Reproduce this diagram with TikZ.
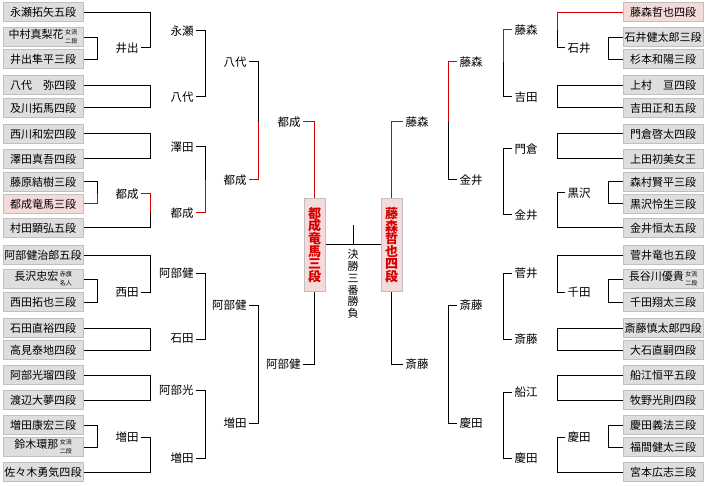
\documentclass[tikz,border=0pt]{standalone}
\usepackage{fontspec}
\setmainfont{Noto Sans CJK JP}
\definecolor{boxfill}{RGB}{222,222,222}
\definecolor{boxline}{RGB}{192,192,192}
\definecolor{champfill}{RGB}{245,218,218}
\definecolor{winred}{RGB}{215,0,0}
\newcommand\stk[2]{\hspace{1.5pt}{\fontsize{6}{8.6}\selectfont\begin{tabular}{@{}c@{}}#1\\#2\end{tabular}}}

\begin{document}
\begin{tikzpicture}[x=1pt, y=-1pt, line width=1pt,
        player/.style={draw=boxline, minimum width=80pt, minimum height=19pt, inner sep=0pt, font=\fontsize{11}{12}\selectfont},
        winL/.style={anchor=east, inner sep=2pt, font=\fontsize{11.5}{12}\selectfont},
        winR/.style={anchor=west, inner sep=2pt, font=\fontsize{11.5}{12}\selectfont},
        finalist/.style={draw=boxline, fill=champfill, minimum width=21pt, minimum height=92pt, inner sep=0pt, align=center, text=winred, font=\fontsize{13}{12.6}\selectfont\bfseries},
        winline/.style={draw=winred}]
            \useasboundingbox (0,0) rectangle (706,486);
            % Bracket columns
            \foreach \c/\x in {vL1/97, vL2/150, vL3/205, vL4/258, vR1/608, vR2/557, vR3/503, vR4/448} {
                    \coordinate (\c) at (\x,0);
                }
            % Left players
            \foreach \i/\y/\n/\f in {0/12.5/永瀬拓矢五段/boxfill, 1/37.5/中村真梨花\stk{女流}{二段}/boxfill, 2/59.5/井出隼平三段/boxfill,
                    3/85.5/八代　弥四段/boxfill, 4/108/及川拓馬四段/boxfill, 5/134/西川和宏四段/boxfill, 6/159/澤田真吾四段/boxfill,
                    7/182/藤原結樹三段/boxfill, 8/204/都成竜馬三段/champfill, 9/228/村田顕弘五段/boxfill, 10/255/阿部健治郎五段/boxfill,
                    11/279/長沢忠宏\stk{赤旗}{名人}/boxfill, 12/302/西田拓也三段/boxfill, 13/328/石田直裕四段/boxfill,
                    14/350/高見泰地四段/boxfill, 15/375/阿部光瑠四段/boxfill, 16/400/渡辺大夢四段/boxfill, 17/425/増田康宏三段/boxfill,
                    18/447/鈴木環那\stk{女流}{二段}/boxfill, 19/472/佐々木勇気四段/boxfill} {
                    \node[player, fill=\f] (L\i) at (43,\y) {\n};
                }
            % Right players
            \foreach \i/\y/\n/\f in {0/12.5/藤森哲也四段/champfill, 1/37.5/石井健太郎三段/boxfill, 2/59.5/杉本和陽三段/boxfill,
                    3/85.5/上村　亘四段/boxfill, 4/108/吉田正和五段/boxfill, 5/134/門倉啓太四段/boxfill, 6/159/上田初美女王/boxfill,
                    7/182/森村賢平三段/boxfill, 8/204/黒沢怜生三段/boxfill, 9/228/金井恒太五段/boxfill, 10/255/菅井竜也五段/boxfill,
                    11/279/長谷川優貴\stk{女流}{二段}/boxfill, 12/302/千田翔太三段/boxfill, 13/328/斎藤慎太郎四段/boxfill,
                    14/350/大石直嗣四段/boxfill, 15/375/船江恒平五段/boxfill, 16/400/牧野光則四段/boxfill, 17/425/慶田義法三段/boxfill,
                    18/447/福間健太三段/boxfill, 19/472/宮本広志三段/boxfill} {
                    \node[player, fill=\f] (R\i) at (663,\y) {\n};
                }
            % Winners, left half
            \foreach \nm/\x/\y/\t in {LA1/141/48/井出, LA2/141/194/都成, LA3/141/292/西田, LA4/141/437/増田,
                    LB1/196/31/永瀬, LB2/196/97/八代, LB3/196/147/澤田, LB4/196/213/都成,
                    LB5/196/273/阿部健, LB6/196/339/石田, LB7/196/390/阿部光, LB8/196/458/増田,
                    LC1/249/62/八代, LC2/249/180/都成, LC3/249/305/阿部健, LC4/249/423/増田,
                    LD1/303/122/都成, LD2/303/364/阿部健} {
                    \node[winL] (\nm) at (\x,\y) {\t};
                }
            % Winners, right half
            \foreach \nm/\x/\y/\t in {RA1/565/48/石井, RA2/565/193/黒沢, RA3/565/292/千田, RA4/565/437/慶田,
                    RB1/512/30/藤森, RB2/512/97/吉田, RB3/512/149/門倉, RB4/512/215/金井,
                    RB5/512/273/菅井, RB6/512/339/斎藤, RB7/512/392/船江, RB8/512/458/慶田,
                    RC1/457/62/藤森, RC2/457/180/金井, RC3/457/305/斎藤, RC4/457/423/慶田,
                    RD1/403/122/藤森, RD2/403/364/斎藤} {
                    \node[winR] (\nm) at (\x,\y) {\t};
                }
            % Final
            \node[finalist] (FL) at (314.5,245) {都\\成\\竜\\馬\\三\\段};
            \node[finalist] (FR) at (391.5,245) {藤\\森\\哲\\也\\四\\段};
            \node[align=center, inner sep=0pt, font=\fontsize{11}{11.7}\selectfont] (kessho) at (353,284) {決\\勝\\三\\番\\勝\\負};
            \coordinate (top) at (353,225);

            % Brackets
            \foreach \a/\w/\c in {L1.east/LA1/vL1, L2.east/LA1/vL1, L7.east/LA2/vL1, L11.east/LA3/vL1, L12.east/LA3/vL1,
                    L17.east/LA4/vL1, L18.east/LA4/vL1,
                    L0.east/LB1/vL2, LA1.east/LB1/vL2, L3.east/LB2/vL2, L4.east/LB2/vL2, L5.east/LB3/vL2, L6.east/LB3/vL2,
                    L9.east/LB4/vL2, L10.east/LB5/vL2, LA3.east/LB5/vL2, L13.east/LB6/vL2, L14.east/LB6/vL2,
                    L15.east/LB7/vL2, L16.east/LB7/vL2, LA4.east/LB8/vL2, L19.east/LB8/vL2,
                    LB1.east/LC1/vL3, LB2.east/LC1/vL3, LB3.east/LC2/vL3, LB5.east/LC3/vL3, LB6.east/LC3/vL3,
                    LB7.east/LC4/vL3, LB8.east/LC4/vL3,
                    LC1.east/LD1/vL4, LC3.east/LD2/vL4, LC4.east/LD2/vL4,
                    R1.west/RA1/vR1, R2.west/RA1/vR1, R7.west/RA2/vR1, R8.west/RA2/vR1, R11.west/RA3/vR1, R12.west/RA3/vR1,
                    R17.west/RA4/vR1, R18.west/RA4/vR1,
                    RA1.west/RB1/vR2, R3.west/RB2/vR2, R4.west/RB2/vR2, R5.west/RB3/vR2, R6.west/RB3/vR2,
                    RA2.west/RB4/vR2, R9.west/RB4/vR2, R10.west/RB5/vR2, RA3.west/RB5/vR2, R13.west/RB6/vR2, R14.west/RB6/vR2,
                    R15.west/RB7/vR2, R16.west/RB7/vR2, RA4.west/RB8/vR2, R19.west/RB8/vR2,
                    RB2.west/RC1/vR3, RB3.west/RC2/vR3, RB4.west/RC2/vR3, RB5.west/RC3/vR3, RB6.west/RC3/vR3,
                    RB7.west/RC4/vR3, RB8.west/RC4/vR3,
                    RC2.west/RD1/vR4, RC3.west/RD2/vR4, RC4.west/RD2/vR4} {
                    \draw (\a) -| (\w -| \c);
                }
            % Winning paths
            \foreach \a/\w/\c in {L8.east/LA2/vL1, LA2.east/LB4/vL2, LB4.east/LC2/vL3, LC2.east/LD1/vL4,
                    R0.west/RB1/vR2, RB1.west/RC1/vR3, RC1.west/RD1/vR4} {
                    \draw[winline] (\a) -| (\w -| \c);
                }
            \draw[winline] (LD1.east) -| (FL.north);
            \draw[winline] (RD1.west) -| (FR.north);
            \draw (LD2.east) -| (FL.south);
            \draw (RD2.west) -| (FR.south);
            \draw (FL.east) -- (FR.west);
            \draw (top) -- (top |- FL.east);
        \end{tikzpicture}
\end{document}
